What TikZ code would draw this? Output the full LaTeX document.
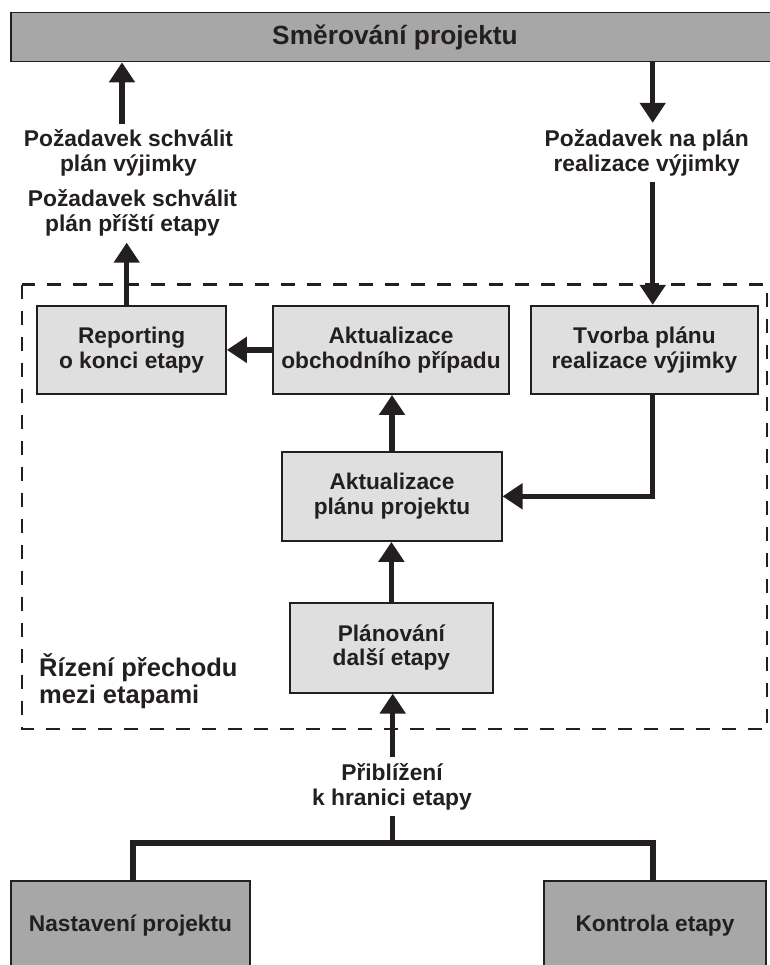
\documentclass[tikz,border=0pt]{standalone}
\usepackage{fontspec}
\setmainfont{Liberation Sans}
\usetikzlibrary{arrows.meta,calc}

\definecolor{ink}{HTML}{231F20}
\definecolor{boxlight}{HTML}{DFDFDF}
\definecolor{boxdark}{HTML}{A7A7A7}

% text sizes (1pt = one unit of the drawing grid)
\newcommand{\boxtextfont}{\fontsize{22.7}{24.5}\selectfont\bfseries}
\newcommand{\labeltextfont}{\fontsize{22.8}{25}\selectfont\bfseries}
\newcommand{\headtextfont}{\fontsize{26.3}{27}\selectfont\bfseries}
\newcommand{\areatextfont}{\fontsize{25.5}{26.6}\selectfont\bfseries}

\tikzset{
  inbox/.style={draw=ink, line width=1.8pt, fill=boxlight, text=ink,
    align=center, inner sep=0pt, font=\boxtextfont},
  outbox/.style={draw=ink, line width=1.8pt, fill=boxdark, text=ink,
    align=center, inner sep=0pt, font=\boxtextfont},
  lbl/.style={align=center, inner sep=6pt, text=ink, font=\labeltextfont},
  flow/.style={draw=ink, line width=5.5pt,
    -{Triangle[length=20pt,width=25pt]}},
  wire/.style={draw=ink, line width=5.5pt, line join=miter},
  frame/.style={draw=ink, line width=2.4pt, dash pattern=on 14pt off 12pt},
}

\begin{document}
\begin{tikzpicture}[x=1pt, y=-1pt]
  \useasboundingbox (0,0) rectangle (769,965);

  % stage boundary area
  \draw[frame] (22,284.5) rectangle (767,729);
  \node[anchor=west, align=left, inner sep=0pt, text=ink, font=\areatextfont]
    (area) at (39,681) {Řízení přechodu\\mezi etapami};

  % upper and lower neighbouring processes
  \node[outbox, font=\headtextfont, minimum width=768pt, minimum height=49pt]
    (top) at (395,37) {Směrování projektu};
  \node[outbox, anchor=north, minimum width=239pt, text height=51pt, text depth=45pt]
    (nast) at (130.5,880) {Nastavení projektu};
  \node[outbox, anchor=north, minimum width=222pt, text height=51pt, text depth=45pt]
    (kontr) at (655,880) {Kontrola etapy};

  % activities
  \node[inbox, minimum width=188.7pt, minimum height=88.3pt]
    (rep) at (131.6,349.9) {Reporting\\o konci etapy};
  \node[inbox, minimum width=236pt, minimum height=88.3pt]
    (obch) at (391,349.9) {Aktualizace\\obchodního případu};
  \node[inbox, minimum width=227.3pt, minimum height=88.3pt]
    (tvor) at (644.4,349.9) {Tvorba plánu\\realizace výjimky};
  \node[inbox, minimum width=219.4pt, minimum height=89.3pt]
    (plan) at (392,496.3) {Aktualizace\\plánu projektu};
  \node[inbox, minimum width=202.7pt, minimum height=90pt]
    (dalsi) at (391.4,647.7) {Plánování\\další etapy};

  % flow labels
  \node[lbl] (req1) at (128.5,153.1) {Požadavek schválit\\plán výjimky};
  \node[lbl] (req2) at (132.5,213.1) {Požadavek schválit\\plán příští etapy};
  \node[lbl] (reqx) at (646.7,152.4) {Požadavek na plán\\realizace výjimky};
  \node[lbl] (near) at (392,786.4) {Přiblížení\\k hranici etapy};

  % flows
  \draw[flow] ([xshift=-6.5pt]req1.north) -- ([xshift=-6.5pt]req1.north |- top.south);
  \draw[flow] ([xshift=-4.9pt]rep.north) -- ([xshift=-4.9pt]rep.north |- req2.south);
  \draw[flow] ([xshift=6pt]reqx.north |- top.south) -- ([xshift=6pt]reqx.north);
  \draw[flow] ([xshift=6pt]reqx.south) -- ([xshift=6pt]reqx.south |- tvor.north);
  \draw[flow] (obch.west) -- (rep.east);
  \draw[flow, line join=miter] ([xshift=8.3pt]tvor.south) |- (plan.east);
  \draw[flow] (plan.north) -- (plan.north |- obch.south);
  \draw[flow] (dalsi.north) -- (dalsi.north |- plan.south);
  \draw[flow] ([xshift=0.7pt]near.north) -- ([xshift=0.7pt]near.north |- dalsi.south);

  % junction towards the lower processes
  \coordinate (junc) at (392.7,843);
  \draw[wire] ([xshift=0.7pt]near.south) -- (junc);
  \draw[wire] ([xshift=2.5pt]nast.north) |- (junc) -| ([xshift=-2pt]kontr.north);
\end{tikzpicture}
\end{document}
